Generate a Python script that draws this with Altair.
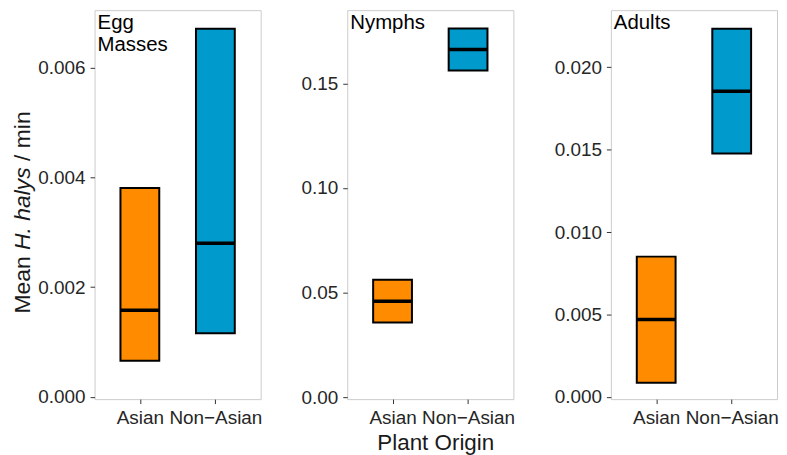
import altair as alt
import pandas as pd

origins = ["Asian", "Non\u2212Asian"]
colors = ["#FF8C00", "#009ACD"]

# Egg masses
egg_lo = [0.00066, 0.00116]
egg_mid = [0.00158, 0.00280]
egg_hi = [0.00381, 0.00671]
# Nymphs
nym_lo = [0.0357, 0.1562]
nym_mid = [0.0459, 0.1662]
nym_hi = [0.0562, 0.1762]
# Adults
adu_lo = [0.00085, 0.01477]
adu_mid = [0.00469, 0.01855]
adu_hi = [0.00851, 0.02234]

panel_labels = ["Egg\nMasses", "Nymphs", "Adults"]
y_domains = [[-0.00004, 0.00705], [-0.0009, 0.185], [-0.00014, 0.02347]]
y_ticks = [[0, 0.002, 0.004, 0.006], [0, 0.05, 0.10, 0.15], [0, 0.005, 0.010, 0.015, 0.020]]
y_formats = [".3f", ".2f", ".3f"]

title_parts = ["Mean", "H. halys", "/ min"]

W, H = 167, 391
BOX = 39
FONT = "Liberation Sans"


def panel(i, lo, mid, hi, xtitle=None):
    df = pd.DataFrame({"origin": origins, "lo": lo, "mid": mid, "hi": hi})
    if xtitle is None:
        xaxis = alt.Axis(title=None, labelAngle=0, labelPadding=5)
    else:
        xaxis = alt.Axis(title=xtitle, labelAngle=0, labelPadding=5, titleBaseline="alphabetic",
                         titleY=51, titleX=W / 2 + 5)
    xenc = alt.X("origin:N", sort=origins, scale=alt.Scale(type="point", padding=0.6), axis=xaxis)
    yscale = alt.Scale(domain=y_domains[i], nice=False, zero=False)
    yaxis = alt.Axis(values=y_ticks[i], format=y_formats[i], title=None, labelPadding=5)
    box = alt.Chart(df).mark_bar(size=BOX, stroke="black", strokeWidth=2).encode(
        x=xenc,
        y=alt.Y("lo:Q", scale=yscale, axis=yaxis),
        y2="hi:Q",
        color=alt.Color("origin:N", scale=alt.Scale(domain=origins, range=colors), legend=None),
    )
    med = alt.Chart(df).mark_tick(size=BOX, thickness=3.5, color="black", opacity=1).encode(
        x=xenc, y=alt.Y("mid:Q", scale=yscale, axis=yaxis)
    )
    lab = alt.Chart(pd.DataFrame({"t": [panel_labels[i]]})).mark_text(
        align="left", baseline="alphabetic", font=FONT, fontSize=20.5, color="black",
        lineBreak="\n", lineHeight=22
    ).encode(text="t:N", x=alt.value(3), y=alt.value(19))
    layers = [box, med, lab]
    if i == 0:
        fs = 23
        ys = [305, 305 - 63.9, 305 - 63.9 - 83.1 - 6.4]
        styles = ["normal", "italic", "normal"]
        for part, yy, st in zip(title_parts, ys, styles):
            layers.append(
                alt.Chart(pd.DataFrame({"t": [part]})).mark_text(
                    align="left", baseline="alphabetic", angle=270, font=FONT,
                    fontSize=fs, fontStyle=st, color="#1a1a1a"
                ).encode(text="t:N", x=alt.value(-65), y=alt.value(yy))
            )
    return alt.layer(*layers).properties(width=W, height=H)


p1 = panel(0, egg_lo, egg_mid, egg_hi)
p2 = panel(1, nym_lo, nym_mid, nym_hi, xtitle="Plant Origin")
p3 = panel(2, adu_lo, adu_mid, adu_hi)

chart = alt.hconcat(p1, p2, p3, spacing=38).resolve_scale(y="independent").configure_view(
    stroke="#cccccc", strokeWidth=1
).configure_axis(
    grid=False, domain=False, labelFont=FONT, labelFontSize=19, labelColor="#262626",
    tickColor="#333333", tickSize=4.5, tickWidth=1,
    titleFont=FONT, titleFontSize=22.5, titleFontWeight="normal", titleColor="#1a1a1a"
).properties(padding={"left": 3, "top": 0, "right": 0, "bottom": 0})

chart.save("out.html", embed_options={"renderer": "svg", "actions": False})
